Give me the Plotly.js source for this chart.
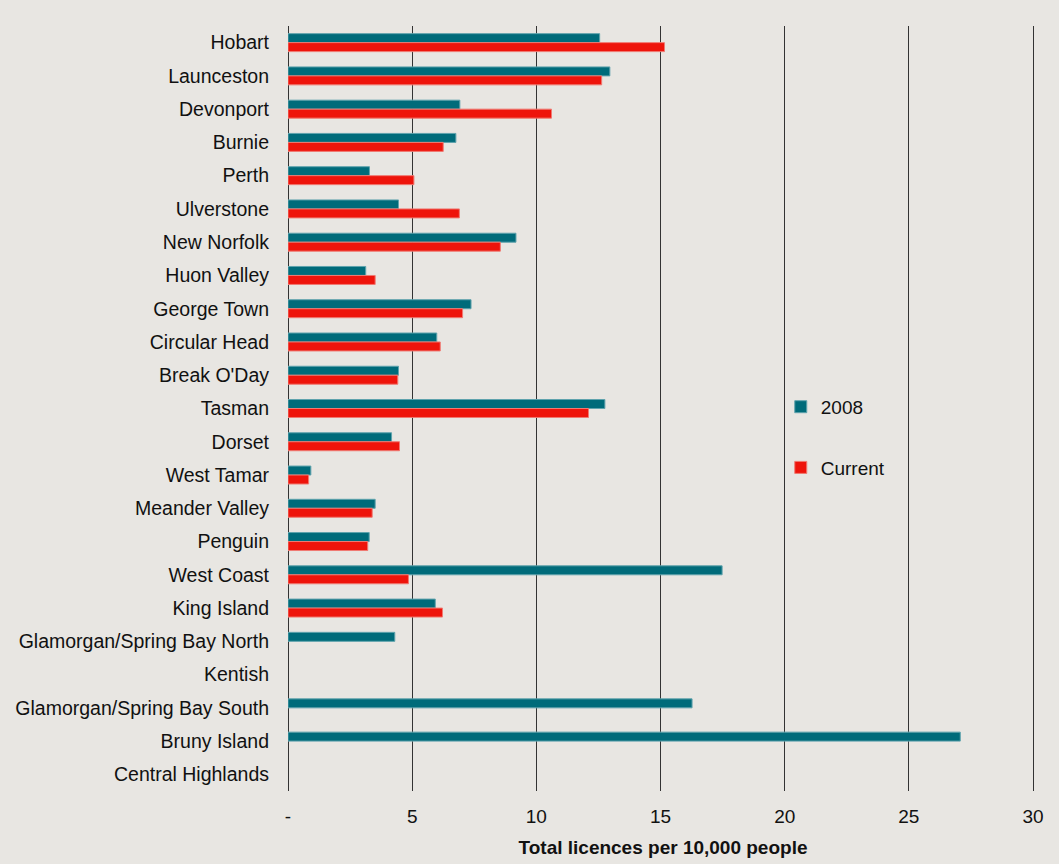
<!DOCTYPE html>
<html>
<head>
<meta charset="utf-8">
<script src="https://cdn.plot.ly/plotly-3.0.1.min.js"></script>
<style>html,body{margin:0;padding:0;background:#E8E6E2;}</style>
</head>
<body>
<div id="chart" style="width:1059px;height:864px;"></div>
<script>
const categories = ["Hobart","Launceston","Devonport","Burnie","Perth","Ulverstone","New Norfolk","Huon Valley","George Town","Circular Head","Break O'Day","Tasman","Dorset","West Tamar","Meander Valley","Penguin","West Coast","King Island","Glamorgan/Spring Bay North","Kentish","Glamorgan/Spring Bay South","Bruny Island","Central Highlands"];
const values2008 = [12.55,12.96,6.92,6.76,3.28,4.45,9.18,3.13,7.37,5.99,4.45,12.76,4.17,0.92,3.51,3.27,17.48,5.93,4.30,null,16.27,27.07,null];
const valuesCurrent = [15.16,12.63,10.61,6.25,5.07,6.90,8.55,3.51,7.03,6.13,4.42,12.10,4.49,0.83,3.39,3.21,4.85,6.22,null,null,null,null,null];
const tickVals = [0,5,10,15,20,25,30];
const tickLabels = ["-","5","10","15","20","25","30"];

const font = "Liberation Sans, Arial, sans-serif";
const traces = [
  {type:'bar', orientation:'h', name:'2008', y:categories, x:values2008,
   marker:{color:'#006B7A', line:{color:'#5FA3AD', width:1}}, legendgroup:'a'},
  {type:'bar', orientation:'h', name:'Current', y:categories, x:valuesCurrent,
   marker:{color:'#EE140B', line:{color:'#F07A72', width:1}}, legendgroup:'b'}
];
const layout = {
  width:1059, height:864,
  paper_bgcolor:'#E8E6E2', plot_bgcolor:'#E8E6E2',
  margin:{l:288, r:21, t:26, b:73},
  barmode:'group', bargap:0.46, bargroupgap:0,
  font:{family:font, size:19, color:'#111'},
  xaxis:{range:[0,30.2], tickvals:tickVals, ticktext:tickLabels,
    showgrid:true, gridcolor:'#333', gridwidth:1, zeroline:true, zerolinecolor:'#333', zerolinewidth:1,
    ticks:'', tickfont:{size:19, color:'#111'}, ticklabelstandoff:12, showline:false, fixedrange:true,
    title:{text:'<b>Total licences per 10,000 people</b>', font:{size:19, color:'#111'}, standoff:14}},
  yaxis:{type:'category', autorange:'reversed', ticks:'', showgrid:false, zeroline:false,
    tickfont:{size:19.5, color:'#111'}, ticklabelstandoff:18, showline:false},
  legend:{x:0.657, y:0.527, xanchor:'left', yanchor:'top', bgcolor:'rgba(0,0,0,0)',
    font:{size:19, color:'#111'}, tracegroupgap:33, itemwidth:30, traceorder:'grouped'},
  showlegend:true
};
Plotly.newPlot('chart', traces, layout, {staticPlot:true});
</script>
</body>
</html>
